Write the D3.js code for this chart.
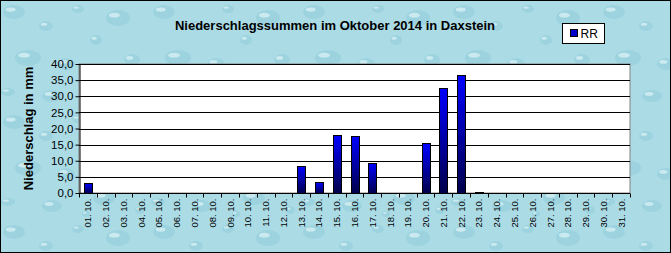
<!DOCTYPE html>
<html>
<head>
<meta charset="utf-8">
<script src="https://cdn.jsdelivr.net/npm/d3@7"></script>
<style>
  body { margin: 0; }
  svg { display: block; font-family: "Liberation Sans", Arial, sans-serif; }
</style>
</head>
<body>
<div id="chart"></div>
<script>
// daily precipitation, October 2014
const days = ["01. 10.","02. 10.","03. 10.","04. 10.","05. 10.","06. 10.","07. 10.","08. 10.",
  "09. 10.","10. 10.","11. 10.","12. 10.","13. 10.","14. 10.","15. 10.","16. 10.",
  "17. 10.","18. 10.","19. 10.","20. 10.","21. 10.","22. 10.","23. 10.","24. 10.",
  "25. 10.","26. 10.","27. 10.","28. 10.","29. 10.","30. 10.","31. 10."];
const rr = [3.2,0,0,0,0,0,0,0,0,0,0,0,8.4,3.4,18.0,17.7,9.3,0,0,15.5,32.5,36.5,0.4,0,0,0,0,0,0,0,0];
const yTicks = [0,5,10,15,20,25,30,35,40];

const W = 671, H = 253;
const margin = {left: 79, right: 41, top: 64, bottom: 60};

const svg = d3.select("#chart").append("svg")
    .attr("width", W)
    .attr("height", H);

const defs = svg.append("defs");

// water drop background, rough imitation
const pat = defs.append("pattern")
    .attr("id", "drops")
    .attr("patternUnits", "userSpaceOnUse")
    .attr("width", 150).attr("height", 110);
pat.append("rect").attr("width", 150).attr("height", 110).attr("fill", "#abdce6");
const drops = [[14,12,11,7],[46,26,7,5],[78,9,6,4],[28,58,13,8],[66,64,9,6],[96,40,6,5],
  [8,92,7,4],[52,96,10,6],[118,18,12,8],[132,60,8,6],[104,88,11,7],[140,100,5,4],[86,104,4,3]];
drops.forEach(([cx, cy, rx, ry]) => {
  pat.append("ellipse").attr("cx", cx).attr("cy", cy).attr("rx", rx).attr("ry", ry)
      .attr("fill", "#8fcbd8").attr("opacity", 0.55);
  pat.append("ellipse").attr("cx", cx - rx * 0.3).attr("cy", cy - ry * 0.35).attr("rx", rx * 0.45).attr("ry", ry * 0.3)
      .attr("fill", "#dff4f8").attr("opacity", 0.7);
});

const grad = defs.append("linearGradient")
    .attr("id", "barGrad")
    .attr("x1", 0).attr("y1", 0).attr("x2", 0).attr("y2", 1);
grad.append("stop").attr("offset", "0%").attr("stop-color", "#0000ff");
grad.append("stop").attr("offset", "100%").attr("stop-color", "#00004a");

svg.append("rect")
    .attr("x", 0.5).attr("y", 0.5)
    .attr("width", W - 1).attr("height", H - 1)
    .attr("fill", "url(#drops)")
    .attr("stroke", "#000");

const x = d3.scaleBand()
    .domain(days)
    .range([margin.left, W - margin.right])
    .paddingInner(0.55)
    .paddingOuter(0.275);

const y = d3.scaleLinear()
    .domain([0, 40])
    .range([H - margin.bottom, margin.top]);

// plot area
svg.append("rect")
    .attr("x", margin.left).attr("y", margin.top)
    .attr("width", W - margin.right - margin.left)
    .attr("height", H - margin.bottom - margin.top)
    .attr("fill", "#fff")
    .attr("stroke", "#808080");

// gridlines
svg.append("g")
    .selectAll("line")
    .data(yTicks.slice(1))
    .join("line")
    .attr("x1", margin.left).attr("x2", W - margin.right)
    .attr("y1", d => Math.round(y(d)) + 0.5).attr("y2", d => Math.round(y(d)) + 0.5)
    .attr("stroke", "#000");

// bars
svg.append("g")
    .selectAll("rect")
    .data(rr)
    .join("rect")
    .attr("x", (d, i) => Math.round(x(days[i])) + 0.5)
    .attr("y", d => Math.round(y(d)) + 0.5)
    .attr("width", Math.round(x.bandwidth()))
    .attr("height", d => Math.max(0, Math.round(y(0)) - Math.round(y(d))))
    .attr("fill", "url(#barGrad)")
    .attr("stroke", "#000")
    .attr("stroke-width", 1);

// y axis
const yAxis = svg.append("g")
    .attr("transform", `translate(${margin.left + 0.5},0)`)
    .call(d3.axisLeft(y).tickValues(yTicks).tickSize(4).tickSizeOuter(0)
        .tickFormat(d => d3.format(".1f")(d).replace(".", ",")));
yAxis.select(".domain").attr("stroke", "#000");
yAxis.selectAll(".tick line").attr("stroke", "#000");
yAxis.selectAll(".tick text")
    .attr("font-size", 11.5)
    .attr("font-family", "Liberation Sans, Arial, sans-serif")
    .attr("fill", "#000")
    .attr("x", -6);

// x axis: ticks between categories
const xAxisY = Math.round(y(0)) + 0.5;
const bounds = d3.range(days.length + 1).map(i => margin.left + i * x.step());
svg.append("line")
    .attr("x1", margin.left).attr("x2", W - margin.right)
    .attr("y1", xAxisY).attr("y2", xAxisY)
    .attr("stroke", "#000");
svg.append("g")
    .selectAll("line")
    .data(bounds)
    .join("line")
    .attr("x1", d => Math.round(d) + 0.5).attr("x2", d => Math.round(d) + 0.5)
    .attr("y1", xAxisY).attr("y2", xAxisY + 4)
    .attr("stroke", "#000");

svg.append("g")
    .selectAll("text")
    .data(days)
    .join("text")
    .attr("transform", d => `translate(${x(d) + x.bandwidth() / 2 + 3.5},${xAxisY + 5}) rotate(-90)`)
    .attr("text-anchor", "end")
    .attr("font-size", 9.5)
    .attr("fill", "#000")
    .text(d => d);

// title
svg.append("text")
    .attr("x", 335).attr("y", 30)
    .attr("text-anchor", "middle")
    .attr("font-size", 13)
    .attr("font-weight", "bold")
    .attr("fill", "#000")
    .text("Niederschlagssummen im Oktober 2014 in Daxstein");

// y axis title
svg.append("text")
    .attr("transform", `translate(33,${(margin.top + H - margin.bottom) / 2}) rotate(-90)`)
    .attr("text-anchor", "middle")
    .attr("font-size", 13)
    .attr("font-weight", "bold")
    .attr("fill", "#000")
    .text("Niederschlag in mm");

// legend
const legend = svg.append("g").attr("transform", "translate(562.5,23.5)");
legend.append("rect")
    .attr("width", 42).attr("height", 20)
    .attr("fill", "#fff").attr("stroke", "#000");
legend.append("rect")
    .attr("x", 8).attr("y", 6).attr("width", 7).attr("height", 7)
    .attr("fill", "#0000cc").attr("stroke", "#000");
legend.append("text")
    .attr("x", 18).attr("y", 14.5)
    .attr("font-size", 12)
    .attr("fill", "#000")
    .text("RR");
</script>
</body>
</html>
